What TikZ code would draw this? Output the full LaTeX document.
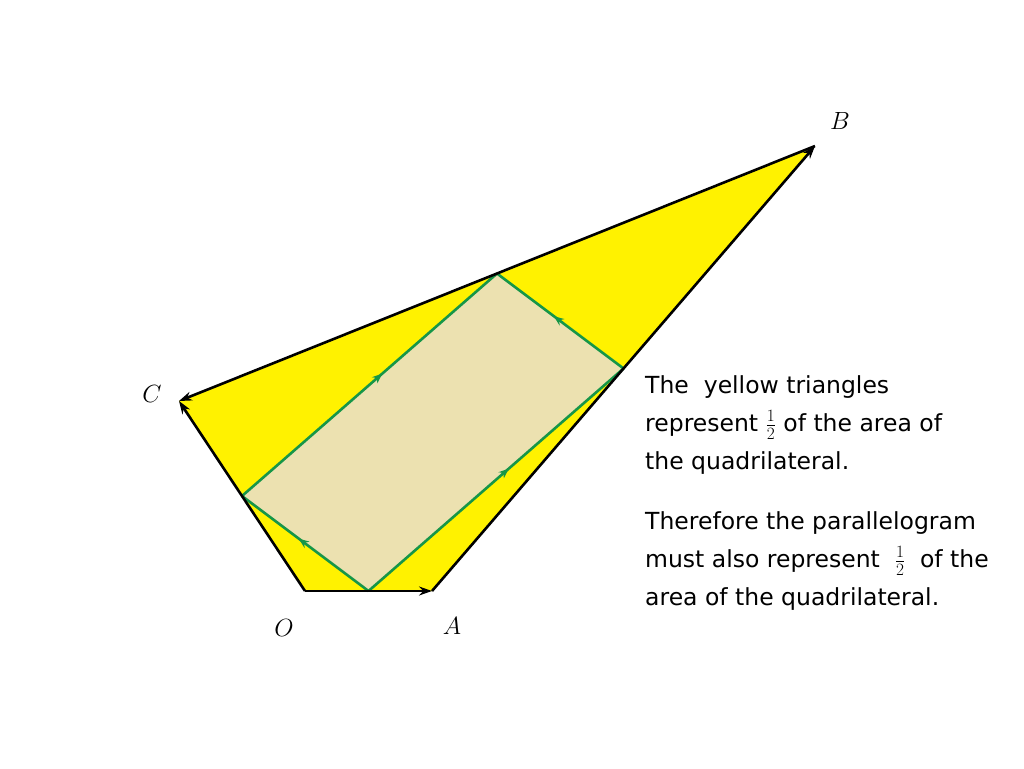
\documentclass[tikz,border=0pt]{standalone}
\usepackage{fontspec}
\setmainfont{DejaVu Sans}
\usetikzlibrary{arrows.meta,decorations.markings,calc}
\definecolor{quadyellow}{RGB}{255,242,0}
\definecolor{paratan}{RGB}{236,225,176}
\definecolor{paragreen}{RGB}{22,150,72}
\tikzset{
  vec/.style={draw=black,line width=2.6pt,-{Stealth[length=13pt,width=9pt]}},
  gside/.style={draw=paragreen,line width=2.6pt,postaction={decorate},
    decoration={markings,mark=at position 0.55 with {\arrow{Stealth[length=10pt,width=8pt]}}}},
  vlabel/.style={font=\fontsize{30}{32}\selectfont},
  txt/.style={anchor=base west,inner sep=0pt,font=\fontsize{23.5}{26}\selectfont}
}
\newcommand{\halffrac}{$\frac{1}{2}$}
\begin{document}
\begin{tikzpicture}[x=1pt,y=-1pt]
\useasboundingbox (0,0) rectangle (1024,768);
\coordinate (O) at (305,591);
\coordinate (A) at (432,591);
\coordinate (B) at (815,146);
\coordinate (C) at (179,401);
\coordinate (M1) at ($(O)!0.5!(A)$);
\coordinate (M2) at ($(A)!0.5!(B)$);
\coordinate (M3) at ($(B)!0.5!(C)$);
\coordinate (M4) at ($(C)!0.5!(O)$);
\fill[quadyellow] (O) -- (A) -- (B) -- (C) -- cycle;
\fill[paratan] (M1) -- (M2) -- (M3) -- (M4) -- cycle;
\draw[gside] (M4) -- (M3);
\draw[gside] (M1) -- (M2);
\draw[gside] (M2) -- (M3);
\draw[gside] (M1) -- (M4);
\draw[vec] (O) -- (A);
\draw[vec] (A) -- (B);
\draw[vec] (B) -- (C);
\draw[vec] (O) -- (C);
\node[vlabel] (lB) at (840,121) {$B$};
\node[vlabel] (lC) at (152,394) {$C$};
\node[vlabel] (lO) at (284,628) {$O$};
\node[vlabel] (lA) at (452,626) {$A$};
\node[txt] (t1) at (645,393) {The\ \ yellow triangles};
\node[txt] (t2) at (645,431) {represent \halffrac\ of the area of};
\node[txt] (t3) at (645,469) {the quadrilateral.};
\node[txt] (t4) at (645,529) {Therefore the parallelogram};
\node[txt] (t5) at (645,567) {must also represent \ \halffrac\ \ of the};
\node[txt] (t6) at (645,605) {area of the quadrilateral.};
\end{tikzpicture}
\end{document}
